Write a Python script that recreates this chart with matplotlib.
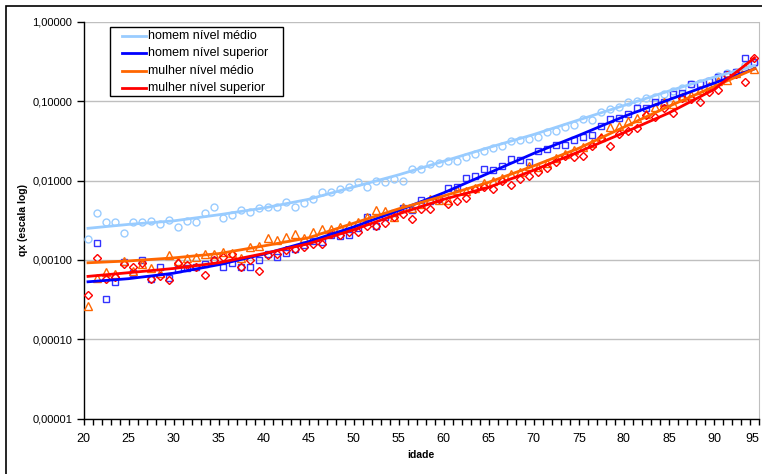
import numpy as np
import matplotlib
matplotlib.use("Agg")
import matplotlib.pyplot as plt
from matplotlib.ticker import FixedLocator, FuncFormatter, MultipleLocator, NullLocator
from matplotlib.patches import Rectangle
from matplotlib.lines import Line2D

plt.rcParams['font.family'] = ['Liberation Sans', 'DejaVu Sans']

# ---------------- data ----------------
ages = np.arange(20.5, 95.0, 1.0)  # 75 observed ages

homem_medio = [
    0.00182, 0.00386, 0.00303, 0.00303, 0.00216, 0.00303, 0.00298, 0.00309, 0.00281, 0.00318,
    0.00262, 0.00309, 0.00303, 0.00393, 0.00460, 0.00334, 0.00368, 0.00425, 0.00401, 0.00455,
    0.00468, 0.00464, 0.00536, 0.00464, 0.00516, 0.00585, 0.00710, 0.00710, 0.00775, 0.00821,
    0.00966, 0.00835, 0.00994, 0.00949, 0.01038, 0.01000, 0.01384, 0.01384, 0.01605, 0.01647,
    0.01760, 0.01760, 0.01994, 0.02182, 0.02339, 0.02588, 0.02688, 0.03172, 0.03237, 0.03284,
    0.03561, 0.04046, 0.04238, 0.04759, 0.05000, 0.05951, 0.05781, 0.07290, 0.07998, 0.08503,
    0.09658, 0.10030, 0.10847, 0.11361, 0.12286, 0.13521, 0.14494, 0.16279, 0.17050, 0.18065,
    0.20711, 0.22397, 0.23457, 0.28490, 0.30451]

homem_superior = [
    np.nan, 0.00165, 0.00032, 0.00052, 0.00094, 0.00069, 0.00099, 0.00057, 0.00082, 0.00059,
    0.00076, 0.00079, 0.00081, 0.00088, 0.00100, 0.00081, 0.00091, 0.00081, 0.00081, 0.00100,
    0.00119, 0.00110, 0.00123, 0.00139, 0.00156, 0.00171, 0.00166, 0.00206, 0.00200, 0.00206,
    0.00250, 0.00344, 0.00269, 0.00347, 0.00395, 0.00453, 0.00425, 0.00575, 0.00549, 0.00588,
    0.00809, 0.00821, 0.01085, 0.01156, 0.01396, 0.01356, 0.01510, 0.01849, 0.01812, 0.01725,
    0.02332, 0.02493, 0.02800, 0.02800, 0.03236, 0.03500, 0.03740, 0.04857, 0.05900, 0.06070,
    0.06880, 0.08120, 0.08260, 0.09660, 0.09660, 0.12180, 0.12470, 0.16280, 0.16420, 0.18170,
    0.20120, 0.21950, 0.23460, 0.34590, 0.30810]

mulher_medio = [
    0.00026, 0.00060, 0.00070, 0.00066, 0.00098, 0.00073, 0.00088, 0.00079, 0.00068, 0.00114,
    0.00098, 0.00107, 0.00110, 0.00117, 0.00119, 0.00127, 0.00121, 0.00107, 0.00147, 0.00150,
    0.00187, 0.00178, 0.00194, 0.00212, 0.00189, 0.00227, 0.00245, 0.00247, 0.00262, 0.00275,
    0.00303, 0.00350, 0.00420, 0.00408, 0.00350, 0.00468, 0.00453, 0.00506, 0.00588, 0.00575,
    0.00568, 0.00768, 0.00727, 0.00805, 0.00930, 0.01000, 0.01060, 0.01208, 0.01298, 0.01522,
    0.01492, 0.01675, 0.01938, 0.02157, 0.02422, 0.02619, 0.02967, 0.03500, 0.04677, 0.04857,
    0.05615, 0.06070, 0.06880, 0.08500, 0.09660, 0.09190, 0.11360, 0.11930, 0.13800, 0.15490,
    0.17910, 0.18440, 0.22400, 0.26650, 0.25150]

mulher_superior = [
    0.00036, 0.00107, 0.00057, 0.00061, 0.00088, 0.00082, 0.00091, 0.00058, 0.00062, 0.00056,
    0.00091, 0.00086, 0.00082, 0.00065, 0.00100, 0.00110, 0.00119, 0.00081, 0.00100, 0.00073,
    0.00115, 0.00119, 0.00133, 0.00138, 0.00147, 0.00157, 0.00159, 0.00212, 0.00203, 0.00227,
    0.00225, 0.00267, 0.00266, 0.00292, 0.00350, 0.00379, 0.00325, 0.00443, 0.00443, 0.00580,
    0.00503, 0.00547, 0.00597, 0.00777, 0.00835, 0.00788, 0.00980, 0.00870, 0.01044, 0.01123,
    0.01280, 0.01437, 0.01710, 0.02035, 0.01949, 0.02035, 0.02720, 0.03400, 0.02720, 0.03820,
    0.04200, 0.04545, 0.06590, 0.06360, 0.08120, 0.07180, 0.11010, 0.10630, 0.09740, 0.13020,
    0.13800, 0.21320, 0.21760, 0.17550, 0.35100]

# fitted curves (read at selected ages)
fit_ages = [20.5, 25, 30, 35, 40, 45, 50, 55, 60, 65, 70, 75, 80, 85, 90, 94.5]
fit_homem_medio = [0.0025, 0.0028, 0.0031, 0.0037, 0.0045, 0.0058, 0.0083, 0.0118, 0.0175,
                   0.026, 0.038, 0.058, 0.088, 0.134, 0.20, 0.28]
fit_homem_superior = [0.00053, 0.00058, 0.00068, 0.00087, 0.00118, 0.0017, 0.0026, 0.0042,
                      0.0070, 0.0124, 0.022, 0.037, 0.064, 0.104, 0.168, 0.255]
fit_mulher_medio = [0.00092, 0.00097, 0.00106, 0.0012, 0.0015, 0.0019, 0.0029, 0.0044,
                    0.0064, 0.0095, 0.0153, 0.0255, 0.047, 0.086, 0.152, 0.255]
fit_mulher_superior = [0.00062, 0.00069, 0.00078, 0.00092, 0.0012, 0.0016, 0.0024, 0.0038,
                       0.0058, 0.0082, 0.0135, 0.023, 0.040, 0.071, 0.14, 0.35]

legend_labels = ["homem nível médio", "homem nível superior",
                 "mulher nível médio", "mulher nível superior"]
y_ticks = [0.00001, 0.0001, 0.001, 0.01, 0.1, 1.0]
x_ticks = list(range(20, 96, 5))

# ---------------- style ----------------
c_lblue = "#99CCFF"
c_blue = "#0000FF"
c_orange = "#FF6600"
c_red = "#FF0000"

W, H = 762, 474
fig = plt.figure(figsize=(W / 100, H / 100), dpi=100)
ax = fig.add_axes([83.5 / W, 55.3 / H, (759 - 83.5) / W, (418.7 - 21.7) / H])


def px(x, y):
    """pixel (from top-left) -> figure fraction"""
    return x / W, 1 - y / H


# outer chart border (left/top visible)
fig.patches.append(Rectangle((6 / W, -0.1), 1.2, (H - 5.5) / H + 0.1,
                             transform=fig.transFigure, fill=False,
                             edgecolor="black", linewidth=1.2, zorder=0))

ax.set_yscale("log")
ax.set_xlim(20, 95)
ax.set_ylim(1e-5, 1.0)

for y in y_ticks:
    ax.axhline(y, color="#BFBFBF", linewidth=1.0, zorder=0)

ms = 5
ax.plot(ages, homem_medio, linestyle="none", marker="o", markersize=ms,
        markerfacecolor="none", markeredgecolor=c_lblue, markeredgewidth=1.0, zorder=3)
ax.plot(ages, homem_superior, linestyle="none", marker="s", markersize=ms,
        markerfacecolor="none", markeredgecolor="#3333FF", markeredgewidth=1.0, zorder=3)
ax.plot(ages, mulher_medio, linestyle="none", marker="^", markersize=ms + 0.5,
        markerfacecolor="none", markeredgecolor=c_orange, markeredgewidth=1.0, zorder=3)
ax.plot(ages, mulher_superior, linestyle="none", marker="D", markersize=ms - 1,
        markerfacecolor="none", markeredgecolor=c_red, markeredgewidth=1.0, zorder=3)

lw = 2.0
fit_colors = [c_lblue, c_blue, c_orange, c_red]
fits = [fit_homem_medio, fit_homem_superior, fit_mulher_medio, fit_mulher_superior]
for vals, col in zip(fits, fit_colors):
    ax.plot(fit_ages, vals, color=col, linewidth=lw, zorder=4)

# axes styling
ax.spines["top"].set_visible(False)
ax.spines["right"].set_color("#BFBFBF")
ax.spines["left"].set_color("black")
ax.spines["bottom"].set_color("black")
ax.spines["left"].set_linewidth(1.0)
ax.spines["bottom"].set_linewidth(1.0)

ax.yaxis.set_major_locator(FixedLocator(y_ticks))
ax.yaxis.set_minor_locator(NullLocator())
ax.yaxis.set_major_formatter(FuncFormatter(lambda v, p: f"{v:.5f}".replace(".", ",")))
ax.xaxis.set_major_locator(FixedLocator(x_ticks))
ax.xaxis.set_minor_locator(MultipleLocator(1))

ax.tick_params(axis="y", which="major", direction="out", length=5, width=1,
               labelsize=8, pad=3, colors="black")
ax.tick_params(axis="x", which="major", direction="out", length=4, width=1,
               labelsize=9, pad=6)
ax.tick_params(axis="x", which="minor", direction="out", length=4, width=1)

fig.canvas.draw()
xlabels = ax.get_xticklabels()
xlabels[-1].set_horizontalalignment("right")

ax.set_xlabel("idade", fontsize=7.5, fontweight="bold")
ax.xaxis.set_label_coords(0.5, (418.7 - 450) / 397)
ax.set_ylabel("qx (escala log)", fontsize=7.5, fontweight="bold")
ax.yaxis.set_label_coords((28 - 83.5) / 675.5, 0.5)

# legend (drawn as a boxed key, positioned like the original)
box_x0, box_y0, box_x1, box_y1 = 110, 27, 283, 96
fig.patches.append(Rectangle(px(box_x0, box_y1), (box_x1 - box_x0) / W,
                             (box_y1 - box_y0) / H, transform=fig.transFigure,
                             facecolor="white", edgecolor="black", linewidth=1.0,
                             zorder=10))
row_y = [36.0, 53.3, 70.7, 88.0]
for lab, col, ry in zip(legend_labels, fit_colors, row_y):
    (xa, ya), (xb, yb) = px(122, ry), px(146, ry)
    fig.add_artist(Line2D([xa, xb], [ya, yb], color=col, linewidth=lw,
                          transform=fig.transFigure, zorder=11))
    tx, ty = px(148.5, ry)
    fig.text(tx, ty, lab, fontsize=9, va="center", ha="left", zorder=11)

fig.savefig("out.png", dpi=100, facecolor="white")
